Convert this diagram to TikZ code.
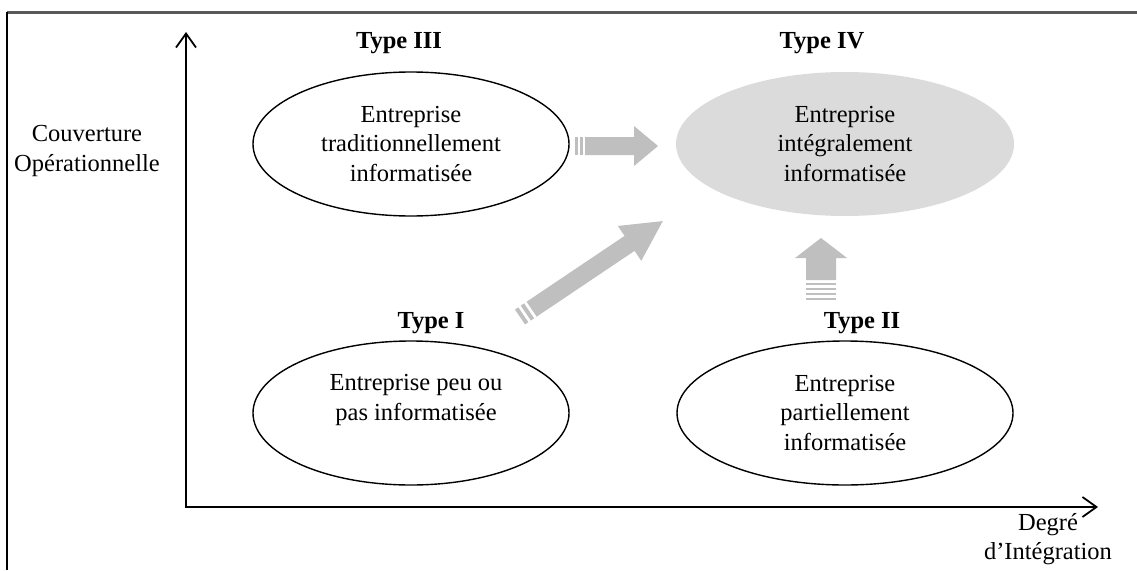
\documentclass[tikz,border=0pt]{standalone}
\usepackage{fontspec}
\setmainfont{Liberation Serif}
\usetikzlibrary{shapes.geometric,arrows.meta}
\definecolor{arrowgray}{gray}{0.75}
\definecolor{typefour}{gray}{0.86}
\definecolor{framegray}{gray}{0.35}

\begin{document}
\begin{tikzpicture}[x=1pt,y=-1pt,
  txt/.style={font=\fontsize{24.5}{29.5}\selectfont, align=center, inner sep=0pt},
  typelabel/.style={font=\fontsize{24.5}{29.5}\selectfont\bfseries, inner sep=0pt},
  stage/.style={ellipse, draw=black, line width=1.4pt, inner sep=0pt,
    minimum width=#1, minimum height=144pt, txt},
  axis/.style={line width=1.8pt,
    {Straight Barb[length=14pt,width=20pt,line width=1.8pt]}-{Straight Barb[length=14pt,width=20pt,line width=1.8pt]}},
  band/.style={fill=arrowgray, draw=none}]

\useasboundingbox (0,0) rectangle (1137,570);

% frame (top and left edges)
\draw[framegray, line width=2.5pt] (7,12.5) -- (1137,12.5);
\draw[black, line width=2pt] (7,12) -- (7,570);

% axes
\coordinate (ytip) at (186,32);
\coordinate (xtip) at (1098,507);
\draw[axis] (ytip) |- (xtip);
\node[txt] (ylab) at (87,151) {Couverture\\Opérationnelle};
\node[txt] (xlab) at (1048,539) {Degré\\d’Intégration};

% the four types
\node[stage=316pt] (t3) at (411,144) {Entreprise\\traditionnellement\\informatisée};
\node[stage=338pt, fill=typefour, draw=none] (t4) at (845,144) {Entreprise\\intégralement\\informatisée};
\node[stage=316pt] (t1) at (411,413) {};
\node[txt] (t1text) at (416,400) {Entreprise peu ou\\pas informatisée};
\node[stage=336pt] (t2) at (845,413) {Entreprise\\partiellement\\informatisée};

\node[typelabel] (l3) at (399,43) {Type III};
\node[typelabel] (l4) at (822,43) {Type IV};
\node[typelabel] (l1) at (431,323) {Type I};
\node[typelabel] (l2) at (862,323) {Type II};

% block arrows toward type IV
\coordinate (hfrom) at (575,146);
\coordinate (dfrom) at (520,317);
\coordinate (vfrom) at (821,300);

\begin{scope}[shift={(hfrom)}, x=1pt, y=1pt]
  \fill[band] (0,-9) rectangle (3,9);
  \fill[band] (5,-9) rectangle (8,9);
  \fill[band] (10,-9) -- (59,-9) -- (59,-20) -- (83,0) -- (59,20) -- (59,9) -- (10,9) -- cycle;
\end{scope}

\begin{scope}[shift={(dfrom)}, rotate=33.9, x=1pt, y=1pt]
  \fill[band] (0,-9) rectangle (4,9);
  \fill[band] (7,-9) rectangle (11,9);
  \fill[band] (14,-9) -- (132,-9) -- (132,-21) -- (172,0) -- (132,21) -- (132,9) -- (14,9) -- cycle;
\end{scope}

\begin{scope}[shift={(vfrom)}, rotate=90, x=1pt, y=1pt]
  \fill[band] (0,-15) rectangle (2,15);
  \fill[band] (5,-15) rectangle (7,15);
  \fill[band] (10,-15) rectangle (12,15);
  \fill[band] (15,-15) rectangle (17,15);
  \fill[band] (20,-15) -- (42,-15) -- (42,-26) -- (62,0) -- (42,26) -- (42,15) -- (20,15) -- cycle;
\end{scope}

\end{tikzpicture}
\end{document}
